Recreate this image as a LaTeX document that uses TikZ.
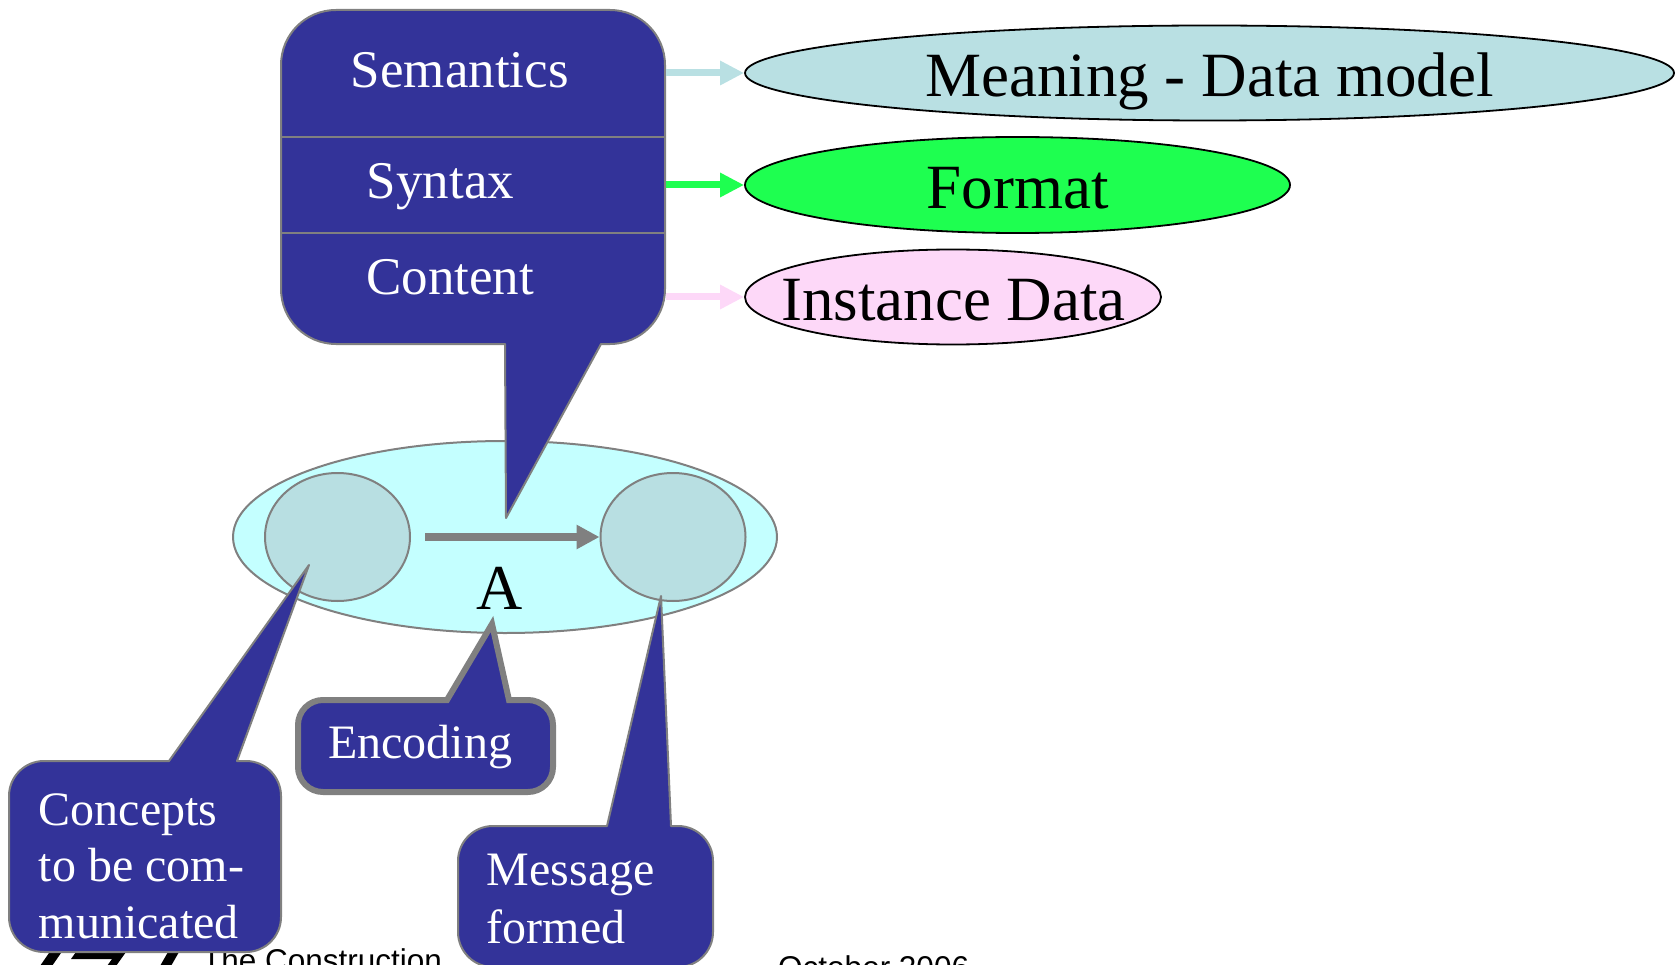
\documentclass[tikz,border=0pt]{standalone}
\usepackage{fontspec}
\setmainfont{Liberation Serif}
\newfontfamily\footfont{Liberation Sans}
\usetikzlibrary{arrows.meta,shapes.geometric}
\definecolor{calloutblue}{HTML}{333399}
\definecolor{bordergray}{HTML}{808080}
\definecolor{cyanfill}{HTML}{C4FFFF}
\definecolor{circlefill}{HTML}{B8DFE2}
\definecolor{meaningfill}{HTML}{B9E0E3}
\definecolor{formatgreen}{HTML}{1EFF50}
\definecolor{instpink}{HTML}{FDD8F8}
\begin{document}
\begin{tikzpicture}[x=1pt,y=-1pt,
  callout/.style={fill=calloutblue,draw=bordergray,line width=2pt,line join=round},
  boxtext/.style={text=white,font=\fontsize{53}{60}\selectfont,anchor=base west,inner sep=0pt},
  ctext/.style={text=white,font=\fontsize{48}{56}\selectfont,anchor=base west,inner sep=0pt},
  ell/.style={ellipse,draw=black,line width=1.8pt,inner sep=0pt},
  elltext/.style={font=\fontsize{63}{70}\selectfont,anchor=base,inner sep=0pt},
  circ/.style={ellipse,draw=bordergray,line width=2pt,fill=circlefill,inner sep=0pt,minimum width=145pt,minimum height=128pt},
  sidearrow/.style={line width=7pt,-{Triangle[length=24pt,width=23pt]}},
  foot/.style={font=\footfont\fontsize{31.5}{36}\selectfont,anchor=base west,inner sep=0pt}
]
\useasboundingbox (0,0) rectangle (1677,965);

% footer remnants
\fill[black] (40,966) -- (52,966) -- (61,953) -- (49,953) -- cycle;
\fill[black] (76,952) -- (126,952) -- (121,959) -- (71,959) -- cycle;
\fill[black] (112,959) -- (121,959) -- (116,966) -- (107,966) -- cycle;
\fill[black] (160,966) -- (171,966) -- (179,952) -- (168,952) -- cycle;
\node[foot] (footcii) at (202,971) {The Construction};
\node[foot] (footdate) at (778,978) {October 2006};

% communication ellipse
\node[ellipse,draw=bordergray,line width=2pt,fill=cyanfill,inner sep=0pt,
      minimum width=544pt,minimum height=192pt] (comm) at (505,537) {};
\node[circ] (lcirc) at (337.5,537) {};
\node[circ] (rcirc) at (673,537) {};
\coordinate (arrstart) at (425,537);
\draw[bordergray,line width=8.5pt,-{Triangle[length=23pt,width=23pt]}] (arrstart) -- (rcirc.west);
\node[font=\fontsize{64}{70}\selectfont,anchor=base,inner sep=0pt] (alabel) at (499.5,609.5) {A};

% big callout
\coordinate (semtip) at (506,518);
\draw[callout] (336,10) -- (610,10) .. controls (640.4,10) and (665,34.6) .. (665,65)
  -- (665,289) .. controls (665,319.4) and (640.4,344) .. (610,344)
  -- (601,344) -- (semtip) -- (505,344) -- (336,344)
  .. controls (305.6,344) and (281,319.4) .. (281,289)
  -- (281,65) .. controls (281,34.6) and (305.6,10) .. (336,10) -- cycle;
\coordinate (divAL) at (281,137); \coordinate (divAR) at (665,137);
\coordinate (divBL) at (281,233); \coordinate (divBR) at (665,233);
\draw[bordergray,line width=2pt] (divAL) -- (divAR);
\draw[bordergray,line width=2pt] (divBL) -- (divBR);
\node[boxtext] (semantics) at (350.7,87.3) {Semantics};
\node[boxtext] (syntax) at (366.7,199) {Syntax};
\node[boxtext] (content) at (366,294.3) {Content};

% encoding callout
\coordinate (enctip) at (492,624);
\draw[fill=calloutblue,draw=bordergray,line width=6pt,line join=miter] (323,700) -- (447,700) -- (enctip) -- (509,700) -- (528,700)
  .. controls (541.8,700) and (553,711.2) .. (553,725) -- (553,767)
  .. controls (553,780.8) and (541.8,792) .. (528,792) -- (323,792)
  .. controls (309.2,792) and (298,780.8) .. (298,767) -- (298,725)
  .. controls (298,711.2) and (309.2,700) .. (323,700) -- cycle;
\node[ctext] (encoding) at (328,758) {Encoding};

% concepts callout
\coordinate (contip) at (309,565);
\draw[callout] (44,761) -- (169,761) -- (contip) -- (237,761) -- (246,761)
  .. controls (265.3,761) and (281,776.7) .. (281,796) -- (281,917)
  .. controls (281,936.3) and (265.3,952) .. (246,952) -- (44,952)
  .. controls (24.7,952) and (9,936.3) .. (9,917) -- (9,796)
  .. controls (9,776.7) and (24.7,761) .. (44,761) -- cycle;
\node[ctext] (conc1) at (38.5,825) {Concepts};
\node[ctext] (conc2) at (38.5,881.7) {to be com-};
\node[ctext] (conc3) at (38.5,938) {municated};

% message callout
\coordinate (msgtip) at (661,596);
\draw[callout] (493,826) -- (607,826) -- (msgtip) -- (671,826) -- (678,826)
  .. controls (697.3,826) and (713,841.7) .. (713,861) -- (713,932)
  .. controls (713,951.3) and (697.3,967) .. (678,967) -- (493,967)
  .. controls (473.7,967) and (458,951.3) .. (458,932) -- (458,861)
  .. controls (458,841.7) and (473.7,826) .. (493,826) -- cycle;
\node[ctext] (msg1) at (486.6,885) {Message};
\node[ctext] (msg2) at (486.6,943) {formed};

% right ellipses
\node[ell,fill=meaningfill,minimum width=929pt,minimum height=95pt] (meaning) at (1209.5,73) {};
\node[elltext] (meaningtxt) at (1209.5,96.7) {Meaning - Data model};
\node[ell,fill=formatgreen,minimum width=545pt,minimum height=96pt] (format) at (1017.5,185) {};
\node[elltext] (formattxt) at (1017.5,208.3) {Format};
\node[ell,fill=instpink,minimum width=416pt,minimum height=95pt] (inst) at (953,297) {};
\node[elltext] (insttxt) at (953.5,320) {Instance Data};

% side arrows
\coordinate (semR) at (666,73);
\coordinate (synR) at (666,185);
\coordinate (conR) at (666,297);
\draw[sidearrow,meaningfill] (semR) -- (meaning.west);
\draw[sidearrow,formatgreen] (synR) -- (format.west);
\draw[sidearrow,instpink] (conR) -- (inst.west);
\end{tikzpicture}
\end{document}
